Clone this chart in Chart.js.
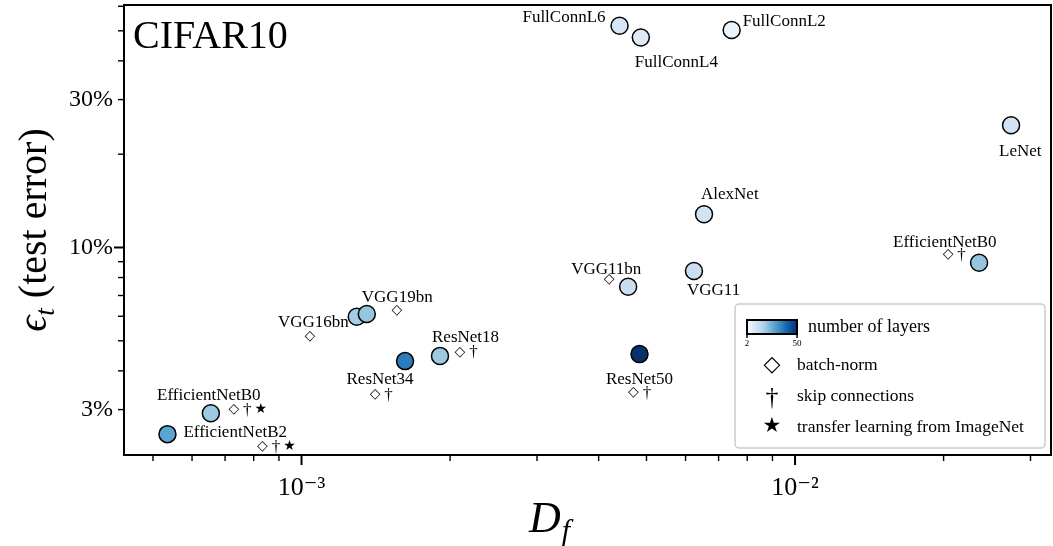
<!DOCTYPE html>
<html>
<head>
<meta charset="utf-8">
<title>CIFAR10: test error against D_f</title>
<script src="https://cdn.jsdelivr.net/npm/chart.js@4.4.1/dist/chart.umd.min.js"></script>
<style>
  html, body { margin: 0; padding: 0; background: #ffffff; }
  canvas { display: block; }
</style>
</head>
<body>
<canvas id="chart" width="1053" height="546"></canvas>
<script>
// ---- data -------------------------------------------------------------
const models = ['FullConnL2', 'FullConnL4', 'FullConnL6', 'LeNet', 'AlexNet',
  'VGG11', 'VGG11bn', 'VGG16bn', 'VGG19bn', 'ResNet18', 'ResNet34', 'ResNet50',
  'EfficientNetB0', 'EfficientNetB0', 'EfficientNetB2'];
// D_f of each trained network
const dimension = [7.44e-3, 4.87e-3, 4.41e-3, 2.74e-2, 6.54e-3,
  6.24e-3, 4.59e-3, 1.294e-3, 1.356e-3, 1.908e-3, 1.621e-3, 4.84e-3,
  2.36e-2, 6.55e-4, 5.35e-4];
// test error, percent
const testError = [50.3, 47.6, 51.9, 24.8, 12.8,
  8.40, 7.47, 5.98, 6.10, 4.47, 4.30, 4.53,
  8.93, 2.92, 2.50];
// number of layers (colour scale)
const layers = [5, 8, 10, 11, 11, 13, 13, 19, 21, 20, 36, 50, 21, 20, 28];
const batchNorm = [false, false, false, false, false, false, true, true, true, true, true, true, true, true, true];
const skipConnections = [false, false, false, false, false, false, false, false, false, true, true, true, true, true, true];
const transferLearning = [false, false, false, false, false, false, false, false, false, false, false, false, false, true, true];
const layerRange = [2, 50];

// axis ticks
const xTickValues = [1e-3, 1e-2];
const xMinorTicks = [5e-4, 6e-4, 7e-4, 8e-4, 9e-4, 2e-3, 3e-3, 4e-3, 5e-3, 6e-3, 7e-3, 8e-3, 9e-3, 2e-2, 3e-2];
const yTickValues = [3, 10, 30];
const yMajorTicks = [10];
const yMinorTicks = [3, 4, 5, 6, 7, 8, 9, 20, 30, 40, 50, 60];

// ---- layout of the annotations (pixel offsets from each marker) ----------
const labelPlacement = [
  { dx: 11, dy: -8, align: 'left' },                      // FullConnL2
  { dx: -6, dy: 25, align: 'left' },                      // FullConnL4
  { dx: -14, dy: -8, align: 'right' },                    // FullConnL6
  { dx: -12, dy: 26, align: 'left' },                     // LeNet
  { dx: -3, dy: -20, align: 'left' },                     // AlexNet
  { dx: -7, dy: 20, align: 'left' },                      // VGG11
  { dx: -57, dy: -17, align: 'left', mx: -19, my: -7 },   // VGG11bn
  { dx: -8, dy: 6, align: 'right', mx: -47, my: 20 },     // VGG16bn
  { dx: -5, dy: -16.5, align: 'left', mx: 30, my: -4 },   // VGG19bn
  { dx: -8, dy: -18.5, align: 'left', mx: 20, my: -4 },   // ResNet18
  { dx: -25, dy: 18, align: 'center', mx: -30, my: 33 },  // ResNet34
  { dx: 0, dy: 25, align: 'center', mx: -6, my: 38 },     // ResNet50
  { dx: -86, dy: -20, align: 'left', mx: -31, my: -8 },   // EfficientNetB0
  { dx: -2, dy: -18, align: 'center', mx: 23, my: -4 },   // EfficientNetB0 (ImageNet)
  { dx: 16, dy: -2, align: 'left', mx: 95, my: 12 }       // EfficientNetB2
];

const SERIF = '"Liberation Serif", "DejaVu Serif", serif';
const SYMBOL = '"DejaVu Sans", sans-serif';

// matplotlib "Blues" colour map
const bluesStops = ['#f7fbff', '#deebf7', '#c6dbef', '#9ecae1', '#6baed6', '#4292c6', '#2171b5', '#08519c', '#08306b'];
function hexToRgb(h) {
  return [parseInt(h.slice(1, 3), 16), parseInt(h.slice(3, 5), 16), parseInt(h.slice(5, 7), 16)];
}
function blues(t) {
  t = Math.min(1, Math.max(0, t));
  const pos = t * (bluesStops.length - 1);
  const i = Math.min(bluesStops.length - 2, Math.floor(pos));
  const f = pos - i;
  const a = hexToRgb(bluesStops[i]), b = hexToRgb(bluesStops[i + 1]);
  const c = a.map((v, k) => Math.round(v + (b[k] - v) * f));
  return `rgb(${c[0]},${c[1]},${c[2]})`;
}
function layerColour(n) {
  return blues((n - layerRange[0]) / (layerRange[1] - layerRange[0]));
}

const superDigits = { '-': '\u207B', '0': '\u2070', '1': '\u00B9', '2': '\u00B2', '3': '\u00B3', '4': '\u2074', '5': '\u2075', '6': '\u2076', '7': '\u2077', '8': '\u2078', '9': '\u2079' };
function powerLabel(v) {
  const e = String(Math.round(Math.log10(v)));
  return '10' + e.split('').map(ch => superDigits[ch]).join('');
}

// ---- glyphs used for the model features ---------------------------------
function drawGlyph(ctx, kind, x, y, big) {
  ctx.save();
  ctx.fillStyle = '#000';
  ctx.textAlign = 'center';
  ctx.textBaseline = 'middle';
  if (kind === 'diamond') {
    ctx.font = (big ? 22 : 14) + 'px ' + SYMBOL;
    ctx.fillText('\u25C7', x, y);
  } else if (kind === 'dagger') {
    ctx.font = (big ? 26 : 17) + 'px ' + SERIF;
    ctx.fillText('\u2020', x, y + (big ? 2 : 1));
  } else {
    ctx.font = (big ? 21 : 14) + 'px ' + SYMBOL;
    ctx.fillText('\u2605', x, y);
  }
  ctx.restore();
}

// frame and tick marks
const framePlugin = {
  id: 'frame',
  beforeDatasetsDraw(chart) {
    const { ctx, chartArea: a, scales } = chart;
    ctx.save();
    ctx.strokeStyle = '#000';
    ctx.lineWidth = 2;
    ctx.strokeRect(a.left, a.top, a.right - a.left, a.bottom - a.top);
    const tick = (x1, y1, x2, y2, w) => {
      ctx.lineWidth = w;
      ctx.beginPath(); ctx.moveTo(x1, y1); ctx.lineTo(x2, y2); ctx.stroke();
    };
    xMinorTicks.forEach(v => {
      const px = scales.x.getPixelForValue(v);
      if (px > a.left && px < a.right) tick(px, a.bottom, px, a.bottom + 6, 1.4);
    });
    xTickValues.forEach(v => {
      const px = scales.x.getPixelForValue(v);
      tick(px, a.bottom, px, a.bottom + 10, 2);
    });
    yMinorTicks.forEach(v => {
      const py = scales.y.getPixelForValue(v);
      if (py > a.top && py < a.bottom) tick(a.left, py, a.left - 6, py, 1.4);
    });
    yMajorTicks.forEach(v => {
      const py = scales.y.getPixelForValue(v);
      tick(a.left, py, a.left - 10, py, 2);
    });
    ctx.restore();
  }
};

// model names, feature glyphs, titles and legend
const annotationPlugin = {
  id: 'annotations',
  afterDatasetsDraw(chart) {
    const { ctx, chartArea: a } = chart;
    const meta = chart.getDatasetMeta(0);
    ctx.save();
    ctx.fillStyle = '#000';
    ctx.textBaseline = 'middle';
    ctx.font = '17px ' + SERIF;
    meta.data.forEach((pt, i) => {
      const p = labelPlacement[i];
      ctx.textAlign = p.align;
      ctx.fillText(models[i], pt.x + p.dx, pt.y + p.dy);
      if (p.mx !== undefined) {
        const glyphs = [];
        if (batchNorm[i]) glyphs.push('diamond');
        if (skipConnections[i]) glyphs.push('dagger');
        if (transferLearning[i]) glyphs.push('star');
        glyphs.forEach((g, k) => drawGlyph(ctx, g, pt.x + p.mx + k * 13.5, pt.y + p.my, false));
      }
    });

    // dataset name in the corner
    ctx.textAlign = 'left';
    ctx.textBaseline = 'alphabetic';
    ctx.font = '40px ' + SERIF;
    ctx.fillText('CIFAR10', a.left + 9, a.top + 43);

    // legend
    const w = 310, h = 144;
    const x0 = a.right - 6 - w, y0 = a.bottom - 7 - h;
    ctx.fillStyle = '#fff';
    ctx.strokeStyle = '#cccccc';
    ctx.lineWidth = 1.5;
    ctx.beginPath();
    ctx.roundRect(x0, y0, w, h, 4);
    ctx.fill();
    ctx.stroke();

    const cbx = x0 + 12, cby = y0 + 16, cbw = 50, cbh = 14;
    const grad = ctx.createLinearGradient(cbx, 0, cbx + cbw, 0);
    for (let k = 0; k <= 16; k++) grad.addColorStop(k / 16, blues(k / 16));
    ctx.fillStyle = grad;
    ctx.fillRect(cbx, cby, cbw, cbh);
    ctx.strokeStyle = '#000';
    ctx.lineWidth = 2;
    ctx.strokeRect(cbx, cby, cbw, cbh);
    ctx.lineWidth = 1.5;
    [cbx, cbx + cbw].forEach(tx => {
      ctx.beginPath(); ctx.moveTo(tx, cby + cbh); ctx.lineTo(tx, cby + cbh + 4); ctx.stroke();
    });
    ctx.fillStyle = '#000';
    ctx.font = '9px ' + SERIF;
    ctx.textAlign = 'center';
    ctx.textBaseline = 'middle';
    ctx.fillText(String(layerRange[0]), cbx, cby + cbh + 10);
    ctx.fillText(String(layerRange[1]), cbx + cbw, cby + cbh + 10);

    ctx.textAlign = 'left';
    ctx.font = '18px ' + SERIF;
    ctx.fillText('number of layers', x0 + 73, y0 + 23);
    const rows = [['diamond', 'batch-norm', 61], ['dagger', 'skip connections', 92], ['star', 'transfer learning from ImageNet', 123]];
    rows.forEach(([g, txt, dy]) => {
      drawGlyph(ctx, g, x0 + 37, y0 + dy, true);
      ctx.font = '17.5px ' + SERIF;
      ctx.textAlign = 'left';
      ctx.textBaseline = 'middle';
      ctx.fillText(txt, x0 + 62, y0 + dy);
    });

    // axis titles
    const cy = (a.top + a.bottom) / 2;
    ctx.save();
    ctx.translate(46, cy);
    ctx.rotate(-Math.PI / 2);
    ctx.textBaseline = 'alphabetic';
    ctx.textAlign = 'left';
    const pE = 'italic 40px ' + SERIF, pT = 'italic 27px ' + SERIF, pR = '40px ' + SERIF;
    ctx.font = pE; const wE = ctx.measureText('\u03F5').width;
    ctx.font = pT; const wT = ctx.measureText('t').width;
    ctx.font = pR; const wR = ctx.measureText(' (test error)').width;
    let sx = -(wE + wT + wR) / 2;
    ctx.font = pE; ctx.fillText('\u03F5', sx, 0); sx += wE;
    ctx.font = pT; ctx.fillText('t', sx, 8); sx += wT;
    ctx.font = pR; ctx.fillText(' (test error)', sx, 0);
    ctx.restore();

    const cx = 549;
    const pD = 'italic 44px ' + SERIF, pF = 'italic 30px ' + SERIF;
    ctx.textBaseline = 'alphabetic';
    ctx.font = pD; const wD = ctx.measureText('D').width;
    ctx.font = pF; const wF = ctx.measureText('f').width;
    let dx = cx - (wD + wF) / 2;
    ctx.font = pD; ctx.fillText('D', dx, 532); dx += wD;
    ctx.font = pF; ctx.fillText('f', dx + 1, 540);
    ctx.restore();
  }
};

// the plot box is fixed, so the scales keep no extra edge padding
function noEdgePadding(s) {
  s.paddingTop = 0; s.paddingBottom = 0; s.paddingLeft = 0; s.paddingRight = 0;
}

const points = dimension.map((d, i) => ({ x: d, y: testError[i] }));

new Chart(document.getElementById('chart'), {
  type: 'scatter',
  data: {
    datasets: [{
      label: 'models',
      data: points,
      pointRadius: 8.5,
      pointHoverRadius: 8.5,
      pointBorderWidth: 1.5,
      pointBorderColor: '#000',
      pointBackgroundColor: layers.map(layerColour)
    }]
  },
  options: {
    responsive: false,
    animation: false,
    events: [],
    layout: { autoPadding: false, padding: { top: 5, right: 2, left: 0, bottom: 0 } },
    plugins: { legend: { display: false }, tooltip: { enabled: false } },
    scales: {
      x: {
        type: 'logarithmic',
        min: 4.368e-4,
        max: 3.301e-2,
        grid: { display: false, drawTicks: false },
        border: { display: false },
        afterBuildTicks: s => { s.ticks = xTickValues.map(v => ({ value: v })); },
        afterFit: s => { s.height = 91; noEdgePadding(s); },
        ticks: {
          autoSkip: false,
          maxRotation: 0,
          padding: 18,
          color: '#000',
          font: { family: SERIF, size: 26 },
          callback: v => powerLabel(v)
        }
      },
      y: {
        type: 'logarithmic',
        min: 2.141,
        max: 60.57,
        grid: { display: false, drawTicks: false },
        border: { display: false },
        afterBuildTicks: s => { s.ticks = yTickValues.map(v => ({ value: v })); },
        afterFit: s => { s.width = 124; noEdgePadding(s); },
        ticks: {
          autoSkip: false,
          padding: 11,
          color: '#000',
          font: { family: SERIF, size: 24 },
          callback: v => v + '%'
        }
      }
    }
  },
  plugins: [framePlugin, annotationPlugin]
});
</script>
</body>
</html>
